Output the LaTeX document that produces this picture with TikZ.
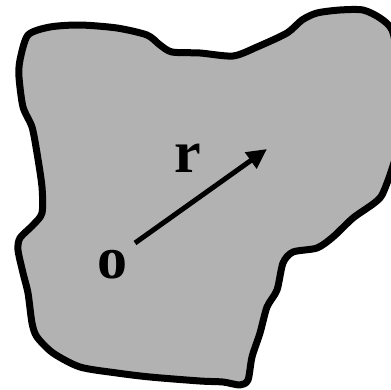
\documentclass[tikz,border=0pt]{standalone}
\usepackage{fontspec}
\setmainfont{Liberation Serif}[BoldFont={Liberation Serif Bold}]
\usepackage{tikz}
\usetikzlibrary{arrows.meta, positioning}

\begin{document}
\begin{tikzpicture}[x=1pt, y=-1pt]

% Picture frame
\useasboundingbox (0,0) rectangle (391,389);
\clip (0,0) rectangle (391,389);

% Body region (grey fill, thick outline)
\filldraw[fill=black!30, line width=7pt, line join=round, smooth cycle, tension=0.45]
plot coordinates {
(28,35) (50,27) (80,25) (117,28) (147,35) (160,45) (172,52) (200,53)
(233,56) (257,47) (287,33) (302,20) (317,13) (340,10) (363,10) (380,18)
(392,30) (398,60) (400,110) (397,150) (391,172) (382,195) (373,204)
(353,218) (333,237) (317,248) (293,252) (283,263) (277,290) (267,307)
(260,333) (252,357) (248,380) (240,385) (223,382) (200,381) (150,377)
(117,373) (80,367) (53,353) (37,337) (32,323) (28,293) (23,273)
(18,250) (20,238) (33,225) (42,213) (42,187) (37,153) (32,127)
(23,107) (19,77) (20,60)
};

% Labels
\node[anchor=base, font=\fontsize{60}{60}\selectfont\bfseries] (rlab) at (187.5,172) {r};
\node[anchor=base, font=\fontsize{60}{60}\selectfont\bfseries] (olab) at (112.5,278) {o};

% Position vector
\coordinate (origin) at (135,243);
\coordinate (tip) at (267,149);
\draw[line width=5pt, -{Triangle[length=20pt, width=19pt]}] (origin) -- (tip);

\end{tikzpicture}
\end{document}
